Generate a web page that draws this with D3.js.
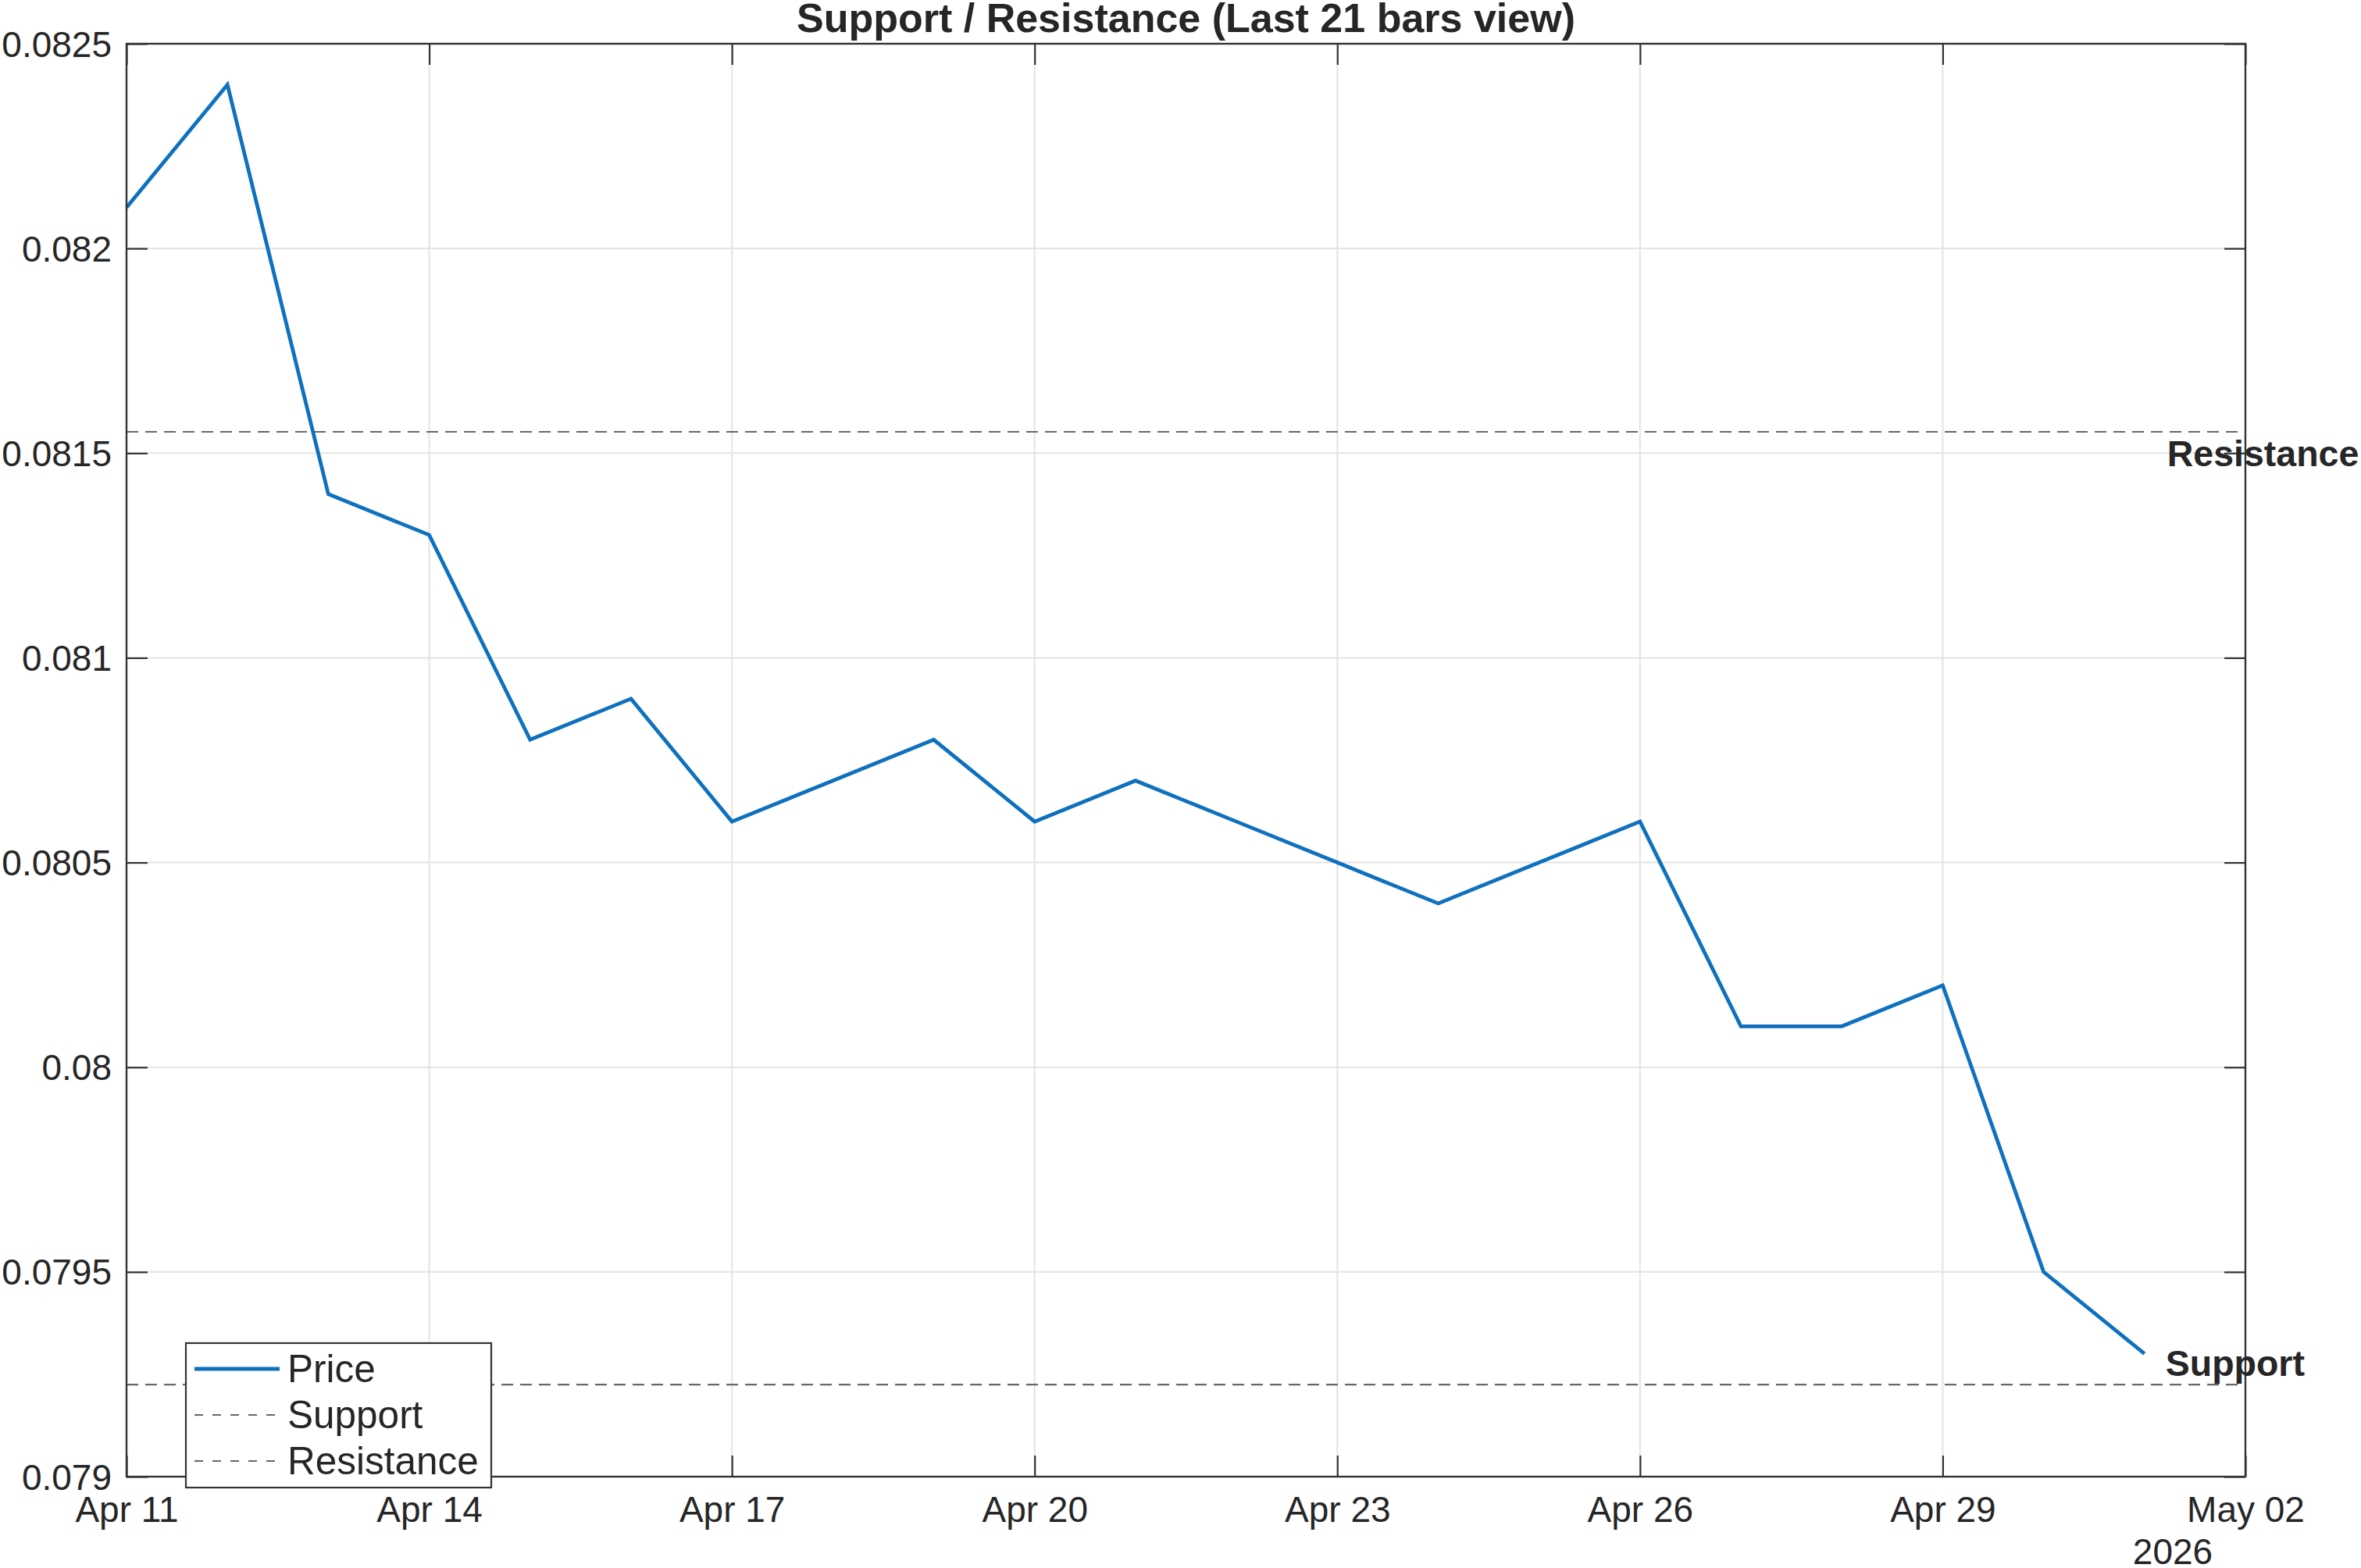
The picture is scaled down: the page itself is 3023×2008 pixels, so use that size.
<!DOCTYPE html>
<html>
<head>
<meta charset="utf-8">
<script src="https://cdn.jsdelivr.net/npm/d3@7"></script>
<style>
  html, body { margin: 0; padding: 0; background: #ffffff; }
  svg { display: block; }
</style>
</head>
<body>
<script>
// ---------------- Data ----------------
const dates = [
  "2026-04-11","2026-04-12","2026-04-13","2026-04-14","2026-04-15","2026-04-16","2026-04-17",
  "2026-04-18","2026-04-19","2026-04-20","2026-04-21","2026-04-22","2026-04-23","2026-04-24",
  "2026-04-25","2026-04-26","2026-04-27","2026-04-28","2026-04-29","2026-04-30","2026-05-01"
];
const prices = [
  0.0821, 0.0824, 0.0814, 0.0813, 0.0808, 0.0809, 0.0806,
  0.0807, 0.0808, 0.0806, 0.0807, 0.0806, 0.0805, 0.0804,
  0.0805, 0.0806, 0.0801, 0.0801, 0.0802, 0.0795, 0.0793
];
const supportLevel = 0.079225;
const resistanceLevel = 0.081552;

const xDomain = ["2026-04-11", "2026-05-02"];
const xTickDates = ["2026-04-11","2026-04-14","2026-04-17","2026-04-20","2026-04-23","2026-04-26","2026-04-29","2026-05-02"];
const xTickLabels = ["Apr 11","Apr 14","Apr 17","Apr 20","Apr 23","Apr 26","Apr 29","May 02"];
const yearLabel = "2026";
const yDomain = [0.079, 0.0825];
const yTickValues = [0.079, 0.0795, 0.080, 0.0805, 0.081, 0.0815, 0.082, 0.0825];
const yTickLabels = ["0.079","0.0795","0.08","0.0805","0.081","0.0815","0.082","0.0825"];
const legendLabels = ["Price", "Support", "Resistance"];
const titleText = "Support / Resistance (Last 21 bars view)";

// ---------------- Layout ----------------
const W = 3023, H = 2008;
const L = 162, R = 2875, T = 56, B = 1891;
const FONT = "'Liberation Sans', Arial, Helvetica, sans-serif";
const TXT = "#262626";
const AX = "#333333";
const GRID = "#e3e3e3";
const BLUE = "#0f71be";
const DASHC = "#686868";
const DASH = "15,9";
const TICKLEN = 27;

const parse = d3.utcParse("%Y-%m-%d");
const x = d3.scaleUtc().domain(xDomain.map(parse)).range([L, R]);
const y = d3.scaleLinear().domain(yDomain).range([B, T]);

const svg = d3.select("body").append("svg")
  .attr("width", W).attr("height", H)
  .attr("viewBox", `0 0 ${W} ${H}`);

svg.append("rect").attr("width", W).attr("height", H).attr("fill", "#fff");

// Grid lines
const grid = svg.append("g");
grid.selectAll(".gx").data(xTickDates.slice(1, -1)).join("line")
  .attr("x1", d => x(parse(d))).attr("x2", d => x(parse(d)))
  .attr("y1", T).attr("y2", B)
  .attr("stroke", GRID).attr("stroke-width", 2);
grid.selectAll(".gy").data(yTickValues.slice(1, -1)).join("line")
  .attr("x1", L).attr("x2", R)
  .attr("y1", d => y(d)).attr("y2", d => y(d))
  .attr("stroke", GRID).attr("stroke-width", 2);

// Axes with inward ticks (both sides)
const xTickVals = xTickDates.map(parse);
const axisBottom = d3.axisBottom(x).tickValues(xTickVals)
  .tickSize(-TICKLEN).tickPadding(0).tickFormat((d, i) => xTickLabels[i]);
const gxB = svg.append("g").attr("transform", `translate(0,${B})`).call(axisBottom);
const axisTop = d3.axisTop(x).tickValues(xTickVals).tickSize(-TICKLEN).tickFormat("");
const gxT = svg.append("g").attr("transform", `translate(0,${T})`).call(axisTop);
const axisLeft = d3.axisLeft(y).tickValues(yTickValues)
  .tickSize(-TICKLEN).tickPadding(0).tickFormat((d, i) => yTickLabels[i]);
const gyL = svg.append("g").attr("transform", `translate(${L},0)`).call(axisLeft);
const axisRight = d3.axisRight(y).tickValues(yTickValues).tickSize(-TICKLEN).tickFormat("");
const gyR = svg.append("g").attr("transform", `translate(${R},0)`).call(axisRight);

[gxB, gxT, gyL, gyR].forEach(g => {
  g.select(".domain").remove();
  g.selectAll(".tick line").attr("stroke", AX).attr("stroke-width", 2.2);
});
gxB.selectAll(".tick text")
  .attr("y", 58).attr("dy", null)
  .attr("font-family", FONT).attr("font-size", 46).attr("fill", TXT);
gyL.selectAll(".tick text")
  .attr("x", -19).attr("dy", 16)
  .attr("font-family", FONT).attr("font-size", 46).attr("fill", TXT)
  .attr("text-anchor", "end");

// Year label
svg.append("text")
  .attr("x", x(parse(xDomain[1])) - 93).attr("y", 2003)
  .attr("text-anchor", "middle")
  .attr("font-family", FONT).attr("font-size", 46).attr("fill", TXT)
  .text(yearLabel);

// Support / Resistance lines
const levels = [supportLevel, resistanceLevel];
svg.append("g").selectAll("line").data(levels).join("line")
  .attr("x1", L).attr("x2", R)
  .attr("y1", d => y(d)).attr("y2", d => y(d))
  .attr("stroke", DASHC).attr("stroke-width", 2.2)
  .attr("stroke-dasharray", DASH);

// Price line
const pts = dates.map((d, i) => ({ t: parse(d), v: prices[i] }));
const line = d3.line().x(d => x(d.t)).y(d => y(d.v));
svg.append("path").datum(pts)
  .attr("d", line)
  .attr("fill", "none")
  .attr("stroke", BLUE)
  .attr("stroke-width", 4.8)
  .attr("stroke-linejoin", "miter");

// Axes box
svg.append("rect")
  .attr("x", L).attr("y", T).attr("width", R - L).attr("height", B - T)
  .attr("fill", "none").attr("stroke", AX).attr("stroke-width", 2.4);

// Level labels
const lastT = parse(dates[dates.length - 1]);
const labelX = x(d3.utcHour.offset(lastT, 5));
svg.append("text")
  .attr("x", labelX).attr("y", y(supportLevel) - 11)
  .attr("font-family", FONT).attr("font-size", 46.5).attr("font-weight", "bold").attr("fill", TXT)
  .text("Support");
svg.append("text")
  .attr("x", labelX + 2).attr("y", y(resistanceLevel) + 44)
  .attr("font-family", FONT).attr("font-size", 46.5).attr("font-weight", "bold").attr("fill", TXT)
  .text("Resistance");

// Title
svg.append("text")
  .attr("x", (L + R) / 2).attr("y", 41)
  .attr("text-anchor", "middle")
  .attr("font-family", FONT).attr("font-size", 52).attr("font-weight", "bold").attr("fill", TXT)
  .text(titleText);

// Legend
const lg = svg.append("g");
lg.append("rect")
  .attr("x", 238).attr("y", 1720).attr("width", 391).attr("height", 185)
  .attr("fill", "#fff").attr("stroke", AX).attr("stroke-width", 2.2);
const rowY = [1753, 1812, 1871];
const legStyles = [
  { c: BLUE, w: 4.8, dash: null },
  { c: DASHC, w: 2.2, dash: "11,12" },
  { c: DASHC, w: 2.2, dash: "11,12" }
];
legendLabels.forEach((lab, i) => {
  lg.append("line")
    .attr("x1", 249).attr("x2", 358)
    .attr("y1", rowY[i]).attr("y2", rowY[i])
    .attr("stroke", legStyles[i].c).attr("stroke-width", legStyles[i].w)
    .attr("stroke-dasharray", legStyles[i].dash);
  lg.append("text")
    .attr("x", 368).attr("y", rowY[i] + 17)
    .attr("font-family", FONT).attr("font-size", 49.5).attr("fill", TXT)
    .text(lab);
});
</script>
</body>
</html>
